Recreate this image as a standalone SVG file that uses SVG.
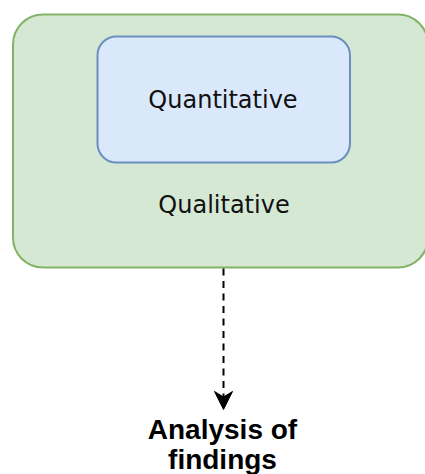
<svg xmlns="http://www.w3.org/2000/svg" width="425" height="474" viewBox="0 0 425 474">
  <style>
    .lbl { font-family: "DejaVu Sans", Verdana, sans-serif; font-size: 24px; fill: #111; text-anchor: middle; }
    .bold { font-family: "Liberation Sans", Arial, Helvetica, sans-serif; font-size: 28px; font-weight: bold; fill: #000; text-anchor: middle; }
    .green { fill: #d5e8d4; stroke: #82b366; stroke-width: 2; }
    .blue { fill: #dae8fc; stroke: #6c8ebf; stroke-width: 2; }
    .edge { fill: none; stroke: #000; stroke-width: 2; stroke-dasharray: 7 5.5; }
  </style>
  <g id="qualitative">
    <rect class="green" x="13" y="14.5" width="415" height="253" rx="30" ry="30"/>
    <text class="lbl" x="224" y="213">Qualitative</text>
  </g>
  <g id="quantitative">
    <rect class="blue" x="97.5" y="36.5" width="252.5" height="126" rx="19" ry="19"/>
    <text class="lbl" x="223" y="108">Quantitative</text>
  </g>
  <g id="connectors">
    <line class="edge" x1="223.5" y1="268.5" x2="223.5" y2="397"/>
    <path d="M214.5,391.5 L223.5,409.5 L232.5,391.5 L223.5,397 Z" fill="#000" stroke="#000" stroke-width="1"/>
  </g>
  <g id="analysis">
    <text class="bold" x="222.5" y="439">Analysis of</text>
    <text class="bold" x="222.5" y="469">findings</text>
  </g>
</svg>
